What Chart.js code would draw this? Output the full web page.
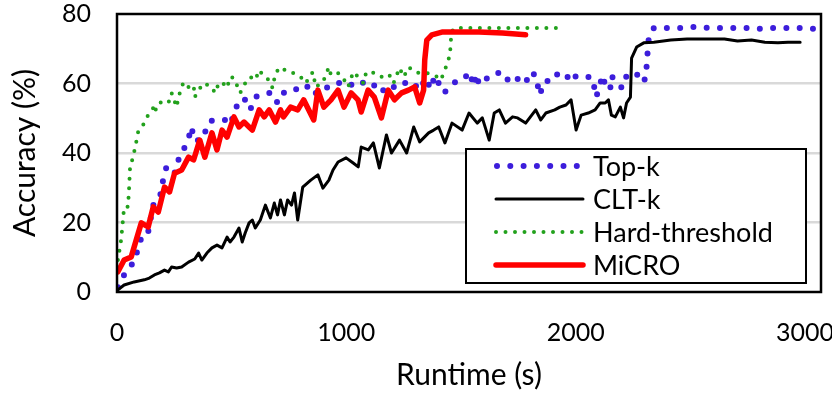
<!DOCTYPE html>
<html>
<head>
<meta charset="utf-8">
<script src="https://cdn.jsdelivr.net/npm/chart.js@4.4.0/dist/chart.umd.min.js"></script>
<style>
  html, body { margin: 0; padding: 0; background: #fff; }
  canvas { display: block; }
</style>
</head>
<body>
<canvas id="accChart" width="832" height="398"></canvas>
<script>
// Runtime (s) / accuracy (%)
const topkX = [4, 31, 79, 92, 114, 136, 158, 172, 194, 202, 216, 238, 251, 268, 290, 312, 326, 334, 370, 383, 400, 422, 444, 471, 493, 524, 554, 581, 603, 625, 656, 678, 700, 726, 770, 801, 832, 858, 889, 942, 964, 1008, 1034, 1078, 1109, 1140, 1166, 1197, 1219, 1254, 1285, 1320, 1346, 1368, 1386, 1425, 1456, 1491, 1527, 1540, 1557, 1566, 1584, 1610, 1645, 1689, 1711, 1747, 1782, 1799, 1826, 1843, 1865, 1901, 1923, 1953, 1980, 2002, 2033, 2068, 2085, 2090, 2107, 2121, 2129, 2151, 2156, 2187, 2204, 2222, 2266, 2279, 2305, 2310, 2314, 2319, 2341, 2402, 2459, 2521, 2574, 2635, 2693, 2750, 2807, 2864, 2926, 2983, 3040];
const topkY = [1.4, 4.9, 9.2, 12.9, 17.0, 17.3, 25.0, 25.6, 28.8, 32.8, 36.0, 35.7, 34.2, 38.0, 40.9, 44.3, 47.5, 43.7, 43.7, 45.8, 48.9, 49.5, 49.5, 49.5, 48.1, 53.8, 55.8, 52.4, 56.1, 56.7, 57.3, 57.3, 54.4, 57.3, 57.6, 59.6, 59.0, 56.7, 58.7, 59.0, 60.1, 60.4, 59.0, 60.4, 59.0, 60.1, 57.6, 58.1, 60.1, 60.1, 60.7, 58.1, 61.6, 58.4, 62.2, 57.3, 59.0, 61.6, 62.2, 60.1, 63.0, 59.0, 62.2, 61.3, 63.0, 63.0, 60.1, 61.3, 59.9, 63.3, 62.4, 56.7, 60.7, 60.7, 63.0, 63.0, 60.4, 62.2, 61.9, 61.9, 58.1, 56.1, 60.1, 62.4, 58.7, 58.4, 62.2, 59.6, 58.7, 62.2, 63.0, 60.4, 61.3, 65.3, 69.1, 73.1, 76.0, 76.0, 76.0, 76.3, 76.0, 76.0, 76.0, 76.0, 75.7, 76.0, 76.0, 76.0, 75.7];

const cltX = [4, 31, 75, 119, 141, 163, 185, 207, 224, 238, 260, 282, 312, 339, 356, 370, 392, 414, 436, 458, 480, 493, 510, 532, 546, 559, 576, 590, 603, 625, 647, 669, 686, 700, 713, 730, 744, 761, 774, 788, 810, 845, 876, 898, 924, 942, 964, 999, 1030, 1052, 1065, 1096, 1118, 1144, 1175, 1197, 1232, 1263, 1294, 1320, 1359, 1381, 1403, 1430, 1461, 1505, 1535, 1571, 1593, 1623, 1645, 1667, 1694, 1725, 1747, 1782, 1826, 1848, 1870, 1909, 1931, 1958, 1980, 2002, 2024, 2055, 2085, 2107, 2129, 2143, 2156, 2173, 2195, 2209, 2222, 2239, 2244, 2266, 2297, 2341, 2415, 2486, 2561, 2649, 2706, 2767, 2825, 2882, 2926, 2979];
const cltY = [0.6, 2.0, 2.9, 3.5, 4.0, 4.9, 5.5, 6.3, 5.8, 7.2, 6.9, 7.2, 8.6, 9.5, 11.2, 9.2, 11.2, 12.7, 13.5, 12.7, 15.8, 14.4, 15.8, 18.4, 14.4, 17.0, 19.9, 20.7, 18.4, 20.7, 25.0, 21.3, 25.6, 22.2, 26.5, 22.2, 26.5, 25.0, 28.5, 20.7, 30.2, 32.2, 33.7, 29.9, 32.2, 35.1, 37.4, 38.6, 37.1, 36.0, 41.7, 40.9, 42.9, 35.7, 45.2, 40.0, 43.7, 40.0, 47.5, 43.2, 45.8, 46.6, 47.5, 42.9, 48.6, 46.6, 51.5, 48.6, 50.1, 43.7, 51.5, 52.4, 48.6, 50.4, 50.1, 48.6, 52.4, 49.5, 51.5, 52.4, 53.2, 53.8, 55.3, 46.6, 50.9, 51.5, 52.4, 54.4, 54.4, 55.3, 50.9, 50.4, 53.2, 50.1, 54.4, 56.1, 67.3, 70.5, 71.7, 71.9, 72.5, 72.8, 72.8, 72.8, 72.2, 72.5, 71.9, 71.7, 71.9, 71.9];

const hardX = [4, 18, 26, 31, 48, 53, 57, 70, 84, 92, 114, 128, 158, 163, 180, 207, 224, 238, 260, 268, 290, 312, 334, 339, 356, 378, 414, 427, 444, 458, 480, 493, 510, 537, 559, 581, 603, 620, 642, 664, 678, 691, 713, 744, 770, 801, 823, 854, 867, 898, 924, 933, 964, 986, 1008, 1030, 1056, 1074, 1087, 1131, 1162, 1188, 1206, 1232, 1250, 1272, 1298, 1320, 1351, 1386, 1412, 1430, 1452, 1456, 1465, 1505, 1593, 1681, 1769, 1857, 1914];
const hardY = [9.2, 15.0, 20.7, 24.5, 24.5, 30.2, 36.0, 38.8, 43.2, 46.0, 48.1, 50.1, 53.0, 51.5, 54.4, 54.7, 54.4, 57.3, 53.2, 56.1, 60.4, 59.0, 59.6, 56.1, 58.1, 60.1, 59.0, 57.3, 60.1, 60.4, 58.7, 61.9, 61.6, 57.3, 60.1, 61.9, 61.0, 63.9, 61.9, 61.0, 58.7, 63.0, 64.7, 63.3, 63.0, 61.9, 60.1, 63.3, 59.0, 60.4, 64.7, 62.4, 63.0, 61.6, 59.0, 63.3, 61.6, 60.1, 63.3, 63.0, 61.6, 62.4, 60.1, 64.5, 61.9, 64.7, 63.3, 63.0, 63.0, 62.4, 61.0, 63.9, 68.2, 72.5, 75.7, 76.0, 76.0, 76.0, 76.0, 76.0, 76.0];

const microX = [4, 31, 62, 84, 106, 136, 158, 180, 207, 229, 251, 282, 312, 334, 361, 383, 414, 436, 458, 480, 510, 532, 554, 576, 590, 620, 642, 664, 691, 713, 726, 757, 788, 814, 858, 876, 902, 933, 964, 990, 1021, 1051, 1065, 1095, 1122, 1153, 1183, 1210, 1241, 1271, 1298, 1320, 1337, 1342, 1351, 1373, 1417, 1461, 1579, 1681, 1782];
const microY = [5.8, 9.2, 10.1, 15.0, 19.9, 18.7, 24.5, 23.0, 30.2, 28.8, 34.2, 35.1, 38.8, 38.0, 43.7, 38.8, 45.8, 40.9, 46.6, 44.6, 50.4, 47.5, 48.9, 47.5, 46.6, 52.4, 50.4, 52.4, 48.9, 52.4, 50.4, 53.2, 52.4, 55.3, 49.5, 58.1, 53.2, 55.3, 58.1, 53.2, 57.3, 55.3, 51.8, 58.1, 56.1, 50.1, 58.1, 55.3, 57.3, 58.1, 59.0, 54.4, 58.1, 66.8, 72.5, 74.0, 74.8, 74.8, 74.8, 74.5, 74.0];

const seriesNames = ['Top-k', 'CLT-k', 'Hard-threshold', 'MiCRO'];
const xTicks = [0, 1000, 2000, 3000];
const yTicks = [0, 20, 40, 60, 80];

const FONT = "'Lato', 'Liberation Sans', sans-serif";
const pts = (xs, ys) => xs.map((x, i) => ({ x, y: ys[i] }));

const STYLES = [
    { color: '#3c1ddb', width: 6, dash: [0, 13.3] },
    { color: '#000000', width: 3, dash: [] },
    { color: '#22a11c', width: 4, dash: [0, 9.5] },
    { color: '#ff0000', width: 5.5, dash: [] }
];

// plot frame + in-plot legend like the Excel original
const framePlugin = {
    id: 'frame',
    afterDraw(chart) {
        const { ctx, chartArea: a } = chart;
        ctx.save();
        ctx.strokeStyle = '#000';
        ctx.lineWidth = 2.5;
        ctx.strokeRect(a.left, a.top, a.right - a.left, a.bottom - a.top);

        // legend box
        const bx = 466, by = 149, bw = 340, bh = 134;
        ctx.fillStyle = '#fff';
        ctx.fillRect(bx, by, bw, bh);
        ctx.lineWidth = 2;
        ctx.strokeRect(bx, by, bw, bh);
        ctx.font = '27px ' + FONT;
        ctx.textBaseline = 'middle';
        ctx.textAlign = 'left';
        seriesNames.forEach((name, i) => {
            const s = STYLES[i];
            const y = 166 + i * 33;
            ctx.beginPath();
            ctx.strokeStyle = s.color;
            ctx.lineWidth = s.width;
            ctx.lineCap = 'round';
            ctx.setLineDash(s.dash);
            ctx.moveTo(i === 0 ? 497 : 496, y);
            ctx.lineTo(583, y);
            ctx.stroke();
            ctx.setLineDash([]);
            ctx.fillStyle = '#000';
            ctx.fillText(name, 593, y + 1);
        });
        ctx.restore();
    }
};

const datasets = [
    pts(topkX, topkY), pts(cltX, cltY), pts(hardX, hardY), pts(microX, microY)
].map((data, i) => ({
    label: seriesNames[i],
    data,
    borderColor: STYLES[i].color,
    backgroundColor: STYLES[i].color,
    borderWidth: STYLES[i].width,
    borderDash: STYLES[i].dash,
    borderCapStyle: 'round',
    borderJoinStyle: 'round',
    pointRadius: 0,
    tension: 0,
    fill: false,
    order: 4 - i
}));

new Chart(document.getElementById('accChart'), {
    type: 'line',
    data: { datasets },
    options: {
        responsive: false,
        animation: false,
        devicePixelRatio: 1,
        layout: { padding: { left: 0, top: 14, right: 11, bottom: 0 } },
        plugins: { legend: { display: false }, tooltip: { enabled: false } },
        scales: {
            x: {
                type: 'linear', min: 0, max: 3070,
                afterBuildTicks: s => { s.ticks = xTicks.map(v => ({ value: v })); },
                afterFit: s => { s.height = 106; s.paddingLeft = 0; s.paddingRight = 0; },
                grid: { display: false, drawTicks: false },
                border: { display: false },
                ticks: { color: '#000', font: { family: FONT, size: 25 }, padding: 26, maxRotation: 0, autoSkip: false, callback: v => String(v) },
                title: { display: true, text: 'Runtime (s)', color: '#000', font: { family: FONT, size: 30 }, padding: { top: 0, bottom: 5 } }
            },
            y: {
                min: 0, max: 80,
                afterBuildTicks: s => { s.ticks = yTicks.map(v => ({ value: v })); },
                afterFit: s => { s.width = 117; s.paddingTop = 0; s.paddingBottom = 0; },
                grid: { color: ctx => (ctx.tick.value === 0 || ctx.tick.value === 80) ? 'rgba(0,0,0,0)' : '#d9d9d9', lineWidth: 2.5, drawTicks: false },
                border: { display: false },
                ticks: { color: '#000', font: { family: FONT, size: 25 }, padding: 26, autoSkip: false, callback: v => String(v) },
                title: { display: true, text: 'Accuracy (%)', color: '#000', font: { family: FONT, size: 30 }, padding: { top: 7, bottom: 0 } }
            }
        }
    },
    plugins: [framePlugin]
});
</script>
</body>
</html>
